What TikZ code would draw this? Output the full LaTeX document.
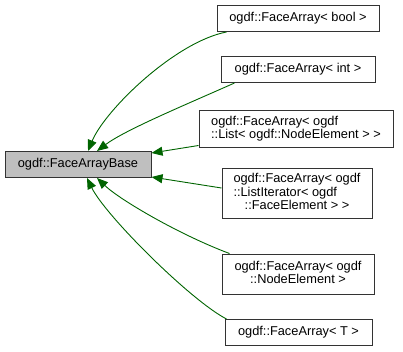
\documentclass[tikz,border=0pt]{standalone}
\usepackage{fontspec}
\setmainfont{Liberation Sans}
\usetikzlibrary{arrows.meta}

\definecolor{inhgreen}{RGB}{0,100,0}
\definecolor{basegray}{RGB}{191,191,191}

% class labels: lines flush left, the last one centred
\newcommand{\lastln}[1]{\multicolumn{1}{@{}c@{}}{#1}}
\newcommand{\lbl}[1]{\begin{tabular}{@{}l@{}}#1\end{tabular}}

\begin{document}
\begin{tikzpicture}[x=1pt, y=-1pt,
		cls/.style={draw=black!80, line width=1pt, fill=white, inner sep=0pt,
			minimum height=26pt, font=\fontsize{12.8}{13.3}\selectfont},
		basecls/.style={cls, fill=basegray},
		inherit/.style={draw=inhgreen, line width=0.9pt,
			-{Triangle[length=11pt,width=9pt]}}
		]
	\useasboundingbox (0,0) rectangle (403,352);

	% base class
	\node [basecls, minimum width=146pt] (fab) at (78,164.5) {ogdf::FaceArrayBase};

	% derived classes
	\node [cls, minimum width=162pt] (fbool) at (298,18.5) {ogdf::FaceArray< bool >};
	\node [cls, minimum width=154pt] (fint) at (298,69.5) {ogdf::FaceArray< int >};
	\node [cls, minimum width=194pt, minimum height=37pt] (flist) at (296,129.5)
		{\lbl{ogdf::FaceArray< ogdf\\ \lastln{::List< ogdf::NodeElement > >}}};
	\node [cls, minimum width=150pt, minimum height=49pt] (fiter) at (297,193.5)
		{\lbl{ogdf::FaceArray< ogdf\\ ::ListIterator< ogdf\\ \lastln{::FaceElement > >}}};
	\node [cls, minimum width=152pt, minimum height=40pt] (fnode) at (298,274)
		{\lbl{ogdf::FaceArray< ogdf\\ \lastln{::NodeElement >}}};
	\node [cls, minimum width=147pt] (ft) at (298.5,332.5) {ogdf::FaceArray< T >};

	% inheritance arrows
	\draw [inherit] ([xshift=10pt]fbool.south west) .. controls (175,42) and (105,110) .. ([xshift=10pt]fab.north);
	\draw [inherit] ([xshift=14pt]fint.south west) .. controls (185,105) and (125,130) .. ([xshift=19pt]fab.north);
	\draw [inherit] ([yshift=3pt]flist.south west) -- ([yshift=-2pt]fab.north east);
	\draw [inherit] ([yshift=5.5pt]fiter.west) -- ([yshift=1pt]fab.south east);
	\draw [inherit] ([xshift=8pt]fnode.north west) .. controls (180,235) and (120,200) .. ([xshift=19pt]fab.south);
	\draw [inherit] ([xshift=2pt]ft.north west) .. controls (190,300) and (105,215) .. ([xshift=9pt]fab.south);
\end{tikzpicture}
\end{document}
